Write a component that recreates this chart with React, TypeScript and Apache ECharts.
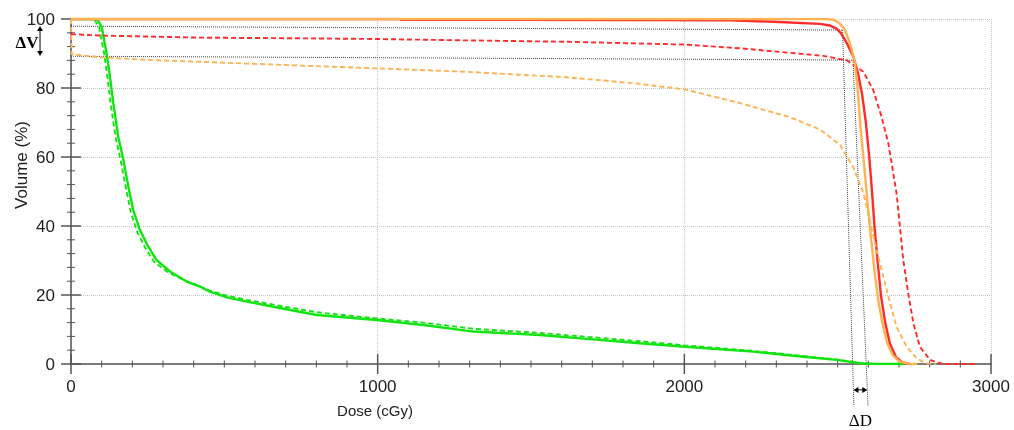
import React, { useEffect, useRef } from "react";
import * as echarts from "echarts";

// ---- axis setup ----
const xRange = [0, 3000];
const yRange = [0, 100];
const xInterval = 1000;
const yInterval = 20;
const xMinorStep = 100;
const yMinorStep = 4;

// ---- DVH curves: [dose cGy, volume %] ----
const greenSolid: number[][] = [
  [0, 100], [84, 100], [100, 97.8], [116, 90], [127, 83.3], [138, 75.6], [154, 65.9], [171, 59.1],
  [187, 51.4], [203, 44.6], [225, 38.8], [252, 34], [279, 30.1], [323, 26.8], [377, 23.9],
  [421, 22.4], [453, 21], [508, 19.3], [573, 18.1], [660, 16.6], [801, 14.2], [997, 12.75],
  [1149, 11.3], [1312, 9.4], [1529, 8.4], [1692, 7.2], [1855, 6.0], [2002, 5.0], [2225, 3.6],
  [2388, 2.1], [2497, 1.2], [2573, 0.2], [2620, 0], [2720, 0],
];
const greenDashed: number[][] = [
  [0, 100], [75, 100], [92, 97.5], [108, 90], [119, 83], [130, 75], [146, 65.5], [163, 58.5],
  [179, 51], [195, 44], [217, 38], [245, 33.2], [272, 29.5], [318, 26.5], [377, 24],
  [421, 22.5], [453, 21.2], [508, 19.8], [573, 18.6], [660, 17.2], [801, 15], [997, 13.2],
  [1149, 12], [1312, 10.2], [1529, 9], [1692, 7.8], [1855, 6.6], [2002, 5.4], [2225, 3.8],
  [2388, 2.3], [2497, 1.3], [2573, 0.3], [2620, 0], [2700, 0],
];
const redSolid: number[][] = [
  [0, 100], [1070, 100], [1075, 99.8], [2150, 99.6], [2290, 99.2], [2442, 98.6], [2475, 98.1],
  [2495, 97.3], [2510, 96], [2530, 93], [2551, 89.1], [2567, 84], [2580, 78], [2592, 70],
  [2603, 60], [2612, 50], [2620, 40], [2630, 30], [2641, 20], [2655, 12], [2670, 6], [2690, 2],
  [2710, 0.5], [2735, 0],
];
const orangeSolid: number[][] = [
  [0, 100], [2460, 100], [2485, 99.8], [2505, 98.9], [2524, 96.8], [2540, 93], [2555, 88],
  [2565, 80], [2575, 68], [2586, 58], [2597, 47], [2607, 38], [2620, 27], [2633, 18], [2648, 11],
  [2662, 6], [2680, 2.5], [2700, 0.8], [2730, 0.1], [2760, 0],
];
const redDashed: number[][] = [
  [0, 95.6], [95, 95.2], [421, 94.6], [747, 94.4], [997, 94.2], [1290, 93.8], [1616, 93.4],
  [2000, 92.6], [2182, 91.5], [2345, 90.2], [2453, 89.3], [2530, 88], [2584, 84.7],
  [2616, 79.4], [2643, 71.7], [2665, 64], [2676, 58.2], [2692, 49.5], [2703, 39.8],
  [2714, 30.1], [2730, 20.5], [2747, 11.8], [2768, 5], [2801, 1.2], [2834, 0.2], [2860, 0],
  [2950, 0],
];
const orangeDashed: number[][] = [
  [0, 100], [2, 89.8], [95, 88.9], [258, 88.1], [421, 87.6], [747, 86.5], [997, 85.7],
  [1290, 84.7], [1616, 83.1], [1834, 81.4], [2000, 79.6], [2182, 75.6], [2345, 71.5],
  [2442, 68], [2508, 63.5], [2551, 57], [2584, 49.5], [2605, 41.7], [2627, 33], [2649, 25.3],
  [2671, 17.6], [2692, 10.8], [2725, 5], [2758, 1.6], [2790, 0.2], [2820, 0],
];

// ---- ΔV / ΔD guide lines ----
const guideH1: number[][] = [[-189, 98.0], [2516, 96.8]];
const guideV1: number[][] = [[2516, 96.8], [2553, -12.2]];
const guideH2: number[][] = [[-189, 89.3], [2550, 88.1]];
const guideV2: number[][] = [[2550, 88.1], [2599, -12.2]];
const dVArrowX = -101;
const dDArrowY = -7.5;
const labelDV = "ΔV";
const labelDD = "ΔD";
const xName = "Dose (cGy)";
const yName = "Volume (%)";

const FONT = 'Arial, "Liberation Sans", sans-serif';
const SERIF = '"Times New Roman", "Liberation Serif", "DejaVu Serif", serif';

export default function App() {
  const ref = useRef<HTMLDivElement>(null);
  useEffect(() => {
    const chart = echarts.init(ref.current!, null, { renderer: "svg" });
    const axisColor = "#555";
    const gridLine = { show: true, lineStyle: { color: "#c4c4c4", type: "dotted" as const, width: 1 } };
    const curve = (name: string, data: number[][], color: string, dashed: boolean, width: number, z: number) => ({
      name, type: "line", data, symbol: "none", z,
      lineStyle: { color, width, type: dashed ? [5, 3] : "solid" },
    });
    const guide = (data: number[][]) => ({
      type: "line", data, symbol: "none", clip: false, silent: true, z: 1,
      lineStyle: { color: "#444", width: 1, type: [1, 1] },
    });
    chart.setOption({
      animation: false,
      grid: { left: 71, right: 23, top: 19, bottom: 66, containLabel: false },
      xAxis: {
        type: "value", min: xRange[0], max: xRange[1], interval: xInterval, position: "bottom",
        axisLine: { show: true, onZero: false, lineStyle: { color: axisColor, width: 1.5 } },
        axisTick: { show: false },
        axisLabel: { margin: 14, fontSize: 17, color: "#222", fontFamily: FONT, formatter: (v: number) => String(v) },
        splitLine: gridLine,
      },
      yAxis: {
        type: "value", min: yRange[0], max: yRange[1], interval: yInterval, position: "left",
        axisLine: { show: true, onZero: false, lineStyle: { color: axisColor, width: 1.5 } },
        axisTick: { show: false },
        axisLabel: { margin: 16, fontSize: 17, color: "#222", fontFamily: FONT, formatter: (v: number) => String(v) },
        splitLine: gridLine,
      },
      series: [
        guide(guideH1), guide(guideV1), guide(guideH2), guide(guideV2),
        curve("Green solid", greenSolid, "#12e312", false, 2.4, 3),
        curve("Green dashed", greenDashed, "#12e312", true, 1.9, 3),
        curve("Red solid", redSolid, "#ff2a2a", false, 2.4, 4),
        curve("Orange solid", orangeSolid, "#ffb24f", false, 2.4, 5),
        curve("Red dashed", redDashed, "#ff2a2a", true, 1.9, 4),
        curve("Orange dashed", orangeDashed, "#ffb24f", true, 1.9, 4),
      ],
    });

    const p = (d: number, v: number) => chart.convertToPixel({ gridIndex: 0 }, [d, v]) as number[];
    const tickEls: any[] = [];
    for (let d = xRange[0]; d <= xRange[1]; d += xMinorStep) {
      const major = d % xInterval === 0;
      const q = p(d, yRange[0]);
      const len = major ? 10 : 3.5;
      tickEls.push({
        type: "line", silent: true,
        shape: { x1: q[0], y1: q[1] - len, x2: q[0], y2: q[1] + len },
        style: { stroke: axisColor, lineWidth: major ? 1.5 : 1 },
      });
    }
    for (let v = yRange[0]; v <= yRange[1]; v += yMinorStep) {
      const major = v % yInterval === 0;
      const q = p(xRange[0], v);
      const len = major ? 10 : 4;
      tickEls.push({
        type: "line", silent: true,
        shape: { x1: q[0] - len, y1: q[1], x2: q[0] + len, y2: q[1] },
        style: { stroke: axisColor, lineWidth: major ? 1.5 : 1 },
      });
    }

    const a1 = p(dVArrowX, guideH1[0][1]);
    const a2 = p(dVArrowX, guideH2[0][1]);
    const atV = (seg: number[][], v: number) =>
      seg[0][0] + ((seg[1][0] - seg[0][0]) * (seg[0][1] - v)) / (seg[0][1] - seg[1][1]);
    const b1 = p(atV(guideV1, dDArrowY), dDArrowY);
    const b2 = p(atV(guideV2, dDArrowY), dDArrowY);
    const ah = 4;
    const aw = 3;
    chart.setOption({
      graphic: [
        ...tickEls,
        { type: "line", shape: { x1: a1[0], y1: a1[1] + ah, x2: a2[0], y2: a2[1] - ah }, style: { stroke: "#000", lineWidth: 1 } },
        { type: "polygon", shape: { points: [[a1[0], a1[1]], [a1[0] - aw, a1[1] + ah + 1], [a1[0] + aw, a1[1] + ah + 1]] }, style: { fill: "#000" } },
        { type: "polygon", shape: { points: [[a2[0], a2[1]], [a2[0] - aw, a2[1] - ah - 1], [a2[0] + aw, a2[1] - ah - 1]] }, style: { fill: "#000" } },
        { type: "line", shape: { x1: b1[0] + ah, y1: b1[1], x2: b2[0] - ah, y2: b2[1] }, style: { stroke: "#000", lineWidth: 1 } },
        { type: "polygon", shape: { points: [[b1[0], b1[1]], [b1[0] + ah + 1, b1[1] - aw], [b1[0] + ah + 1, b1[1] + aw]] }, style: { fill: "#000" } },
        { type: "polygon", shape: { points: [[b2[0], b2[1]], [b2[0] - ah - 1, b2[1] - aw], [b2[0] - ah - 1, b2[1] + aw]] }, style: { fill: "#000" } },
        {
          type: "text", x: a1[0] - 13, y: (a1[1] + a2[1]) / 2 + 2,
          style: { text: labelDV, font: `bold 17px ${SERIF}`, fill: "#000", align: "center", verticalAlign: "middle" },
        },
        {
          type: "text", x: (b1[0] + b2[0]) / 2, y: b1[1] + 31,
          style: { text: labelDD, font: `17px ${SERIF}`, fill: "#000", align: "center", verticalAlign: "middle" },
        },
        {
          type: "text", x: 375, y: 410,
          style: { text: xName, font: `15px ${FONT}`, fill: "#222", align: "center", verticalAlign: "middle" },
        },
        {
          type: "text", x: 21, y: 165, rotation: Math.PI / 2,
          style: { text: yName, font: `17px ${FONT}`, fill: "#222", align: "center", verticalAlign: "middle" },
        },
      ],
    });
    return () => chart.dispose();
  }, []);
  return <div ref={ref} style={{ position: "fixed", left: 0, top: 0, width: 1014, height: 430 }} />;
}
